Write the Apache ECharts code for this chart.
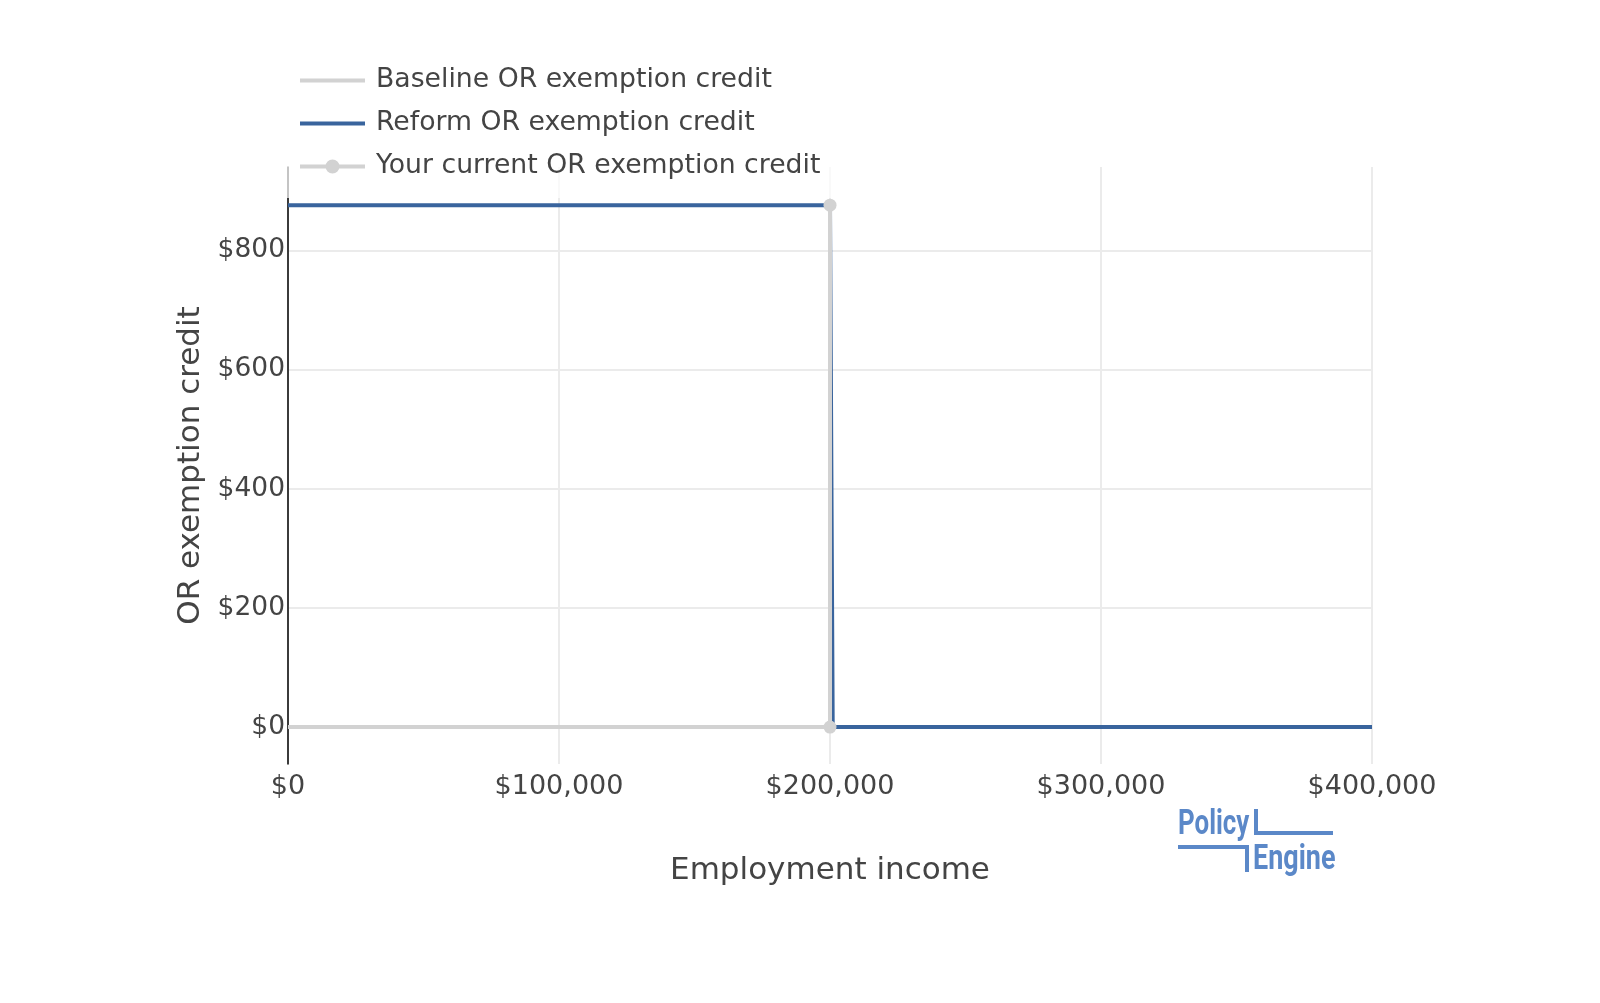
<!DOCTYPE html>
<html>
<head>
<meta charset="utf-8">
<title>OR exemption credit</title>
<script src="https://cdn.jsdelivr.net/npm/echarts@6/dist/echarts.min.js"></script>
<style>
  html, body { margin: 0; padding: 0; background: #fff; }
  #chart { width: 1600px; height: 1003px; }
</style>
</head>
<body>
<div id="chart"></div>
<script>
// data
const incomes = [0, 200000, 201000, 400000];
const baselineCredit = [0, 0, 0, 0];
const reformCredit = [876, 876, 0, 0];
const currentIncome = [200000, 200000];
const currentCredit = [0, 876];
const yTicks = [0, 200, 400, 600, 800];

const seriesNames = [
  "Baseline OR exemption credit",
  "Reform OR exemption credit",
  "Your current OR exemption credit",
];

const GRAY = "#d2d2d2";
const BLUE = "#39649d";
const LOGO = "#5b88c8";
const FONT = "'DejaVu Sans', Verdana, sans-serif";

// legend glyphs: plain thick line, and thick line with a dot
const ICON_LINE = "path://M0,0 H65 V4 H0 Z";
const ICON_DOT = "path://M0,5 H65 V9 H0 Z M32.5,0 A7,7 0 1 1 32.5,14 A7,7 0 1 1 32.5,0 Z";

const pairs = (xs, ys) => xs.map((x, i) => [x, ys[i]]);
const money = (v) => "$" + Number(v).toLocaleString("en-US");

const chart = echarts.init(document.getElementById("chart"), null, { renderer: "canvas" });

chart.setOption({
  animation: false,
  textStyle: { fontFamily: FONT, color: "#444" },
  grid: { left: 288, right: 228, top: 167, bottom: 239, containLabel: false },
  legend: {
    orient: "vertical",
    left: 280,
    top: 57,
    padding: [10, 16, 18, 20],
    itemWidth: 65,
    itemHeight: 26,
    itemGap: 16,
    symbolKeepAspect: true,
    backgroundColor: "rgba(255,255,255,0.7)",
    z: 10,
    textStyle: { fontFamily: FONT, fontSize: 26.7, color: "#444", padding: [0, 0, 0, 6] },
    data: [
      { name: seriesNames[0], icon: ICON_LINE, itemStyle: { color: GRAY } },
      { name: seriesNames[1], icon: ICON_LINE, itemStyle: { color: BLUE } },
      { name: seriesNames[2], icon: ICON_DOT, itemStyle: { color: GRAY } },
    ],
  },
  xAxis: {
    type: "value",
    min: 0,
    max: 400000,
    interval: 100000,
    name: "Employment income",
    nameLocation: "middle",
    nameGap: 91,
    nameTextStyle: { fontFamily: FONT, fontSize: 31, color: "#444" },
    axisLine: { show: false },
    axisTick: { show: false },
    axisLabel: { fontSize: 27, color: "#444", margin: 9, formatter: money },
    splitLine: { show: true, lineStyle: { color: "#ebebeb", width: 2 } },
  },
  yAxis: {
    type: "value",
    min: -62,
    max: 940,
    name: "OR exemption credit",
    nameLocation: "middle",
    nameRotate: 90,
    nameGap: 72,
    nameTextStyle: { fontFamily: FONT, fontSize: 31, color: "#444" },
    axisLine: { show: true, onZero: false, lineStyle: { color: "#000", width: 1.5 } },
    axisTick: { show: false, customValues: yTicks },
    axisLabel: { fontSize: 26.5, color: "#444", margin: 3, customValues: yTicks, formatter: money },
    splitLine: { show: true, lineStyle: { color: "#ebebeb", width: 2 } },
  },
  series: [
    {
      name: seriesNames[0],
      type: "line",
      data: pairs(incomes, baselineCredit),
      symbol: "none",
      lineStyle: { color: GRAY, width: 4 },
      itemStyle: { color: GRAY },
      z: 2,
    },
    {
      name: seriesNames[1],
      type: "line",
      data: pairs(incomes, reformCredit),
      symbol: "none",
      lineStyle: { color: BLUE, width: 4 },
      itemStyle: { color: BLUE },
      z: 3,
    },
    {
      name: seriesNames[2],
      type: "line",
      data: pairs(currentIncome, currentCredit),
      symbol: "circle",
      symbolSize: 13,
      showAllSymbol: true,
      lineStyle: { color: GRAY, width: 4 },
      itemStyle: { color: GRAY },
      z: 4,
    },
  ],
  graphic: [
    {
      type: "text", x: 1178, y: 808, scaleX: 0.74,
      style: { text: "Policy", x: 0, y: 0, fill: LOGO, font: "bold 35px Roboto, sans-serif", textVerticalAlign: "top" },
    },
    {
      type: "text", x: 1253, y: 843, scaleX: 0.77,
      style: { text: "Engine", x: 0, y: 0, fill: LOGO, font: "bold 35px Roboto, sans-serif", textVerticalAlign: "top" },
    },
    {
      type: "polyline",
      shape: { points: [[1256, 809], [1256, 833], [1333, 833]] },
      style: { stroke: LOGO, lineWidth: 4, fill: null },
    },
    {
      type: "polyline",
      shape: { points: [[1178, 847], [1247, 847], [1247, 872]] },
      style: { stroke: LOGO, lineWidth: 4, fill: null },
    },
  ],
});
</script>
</body>
</html>
